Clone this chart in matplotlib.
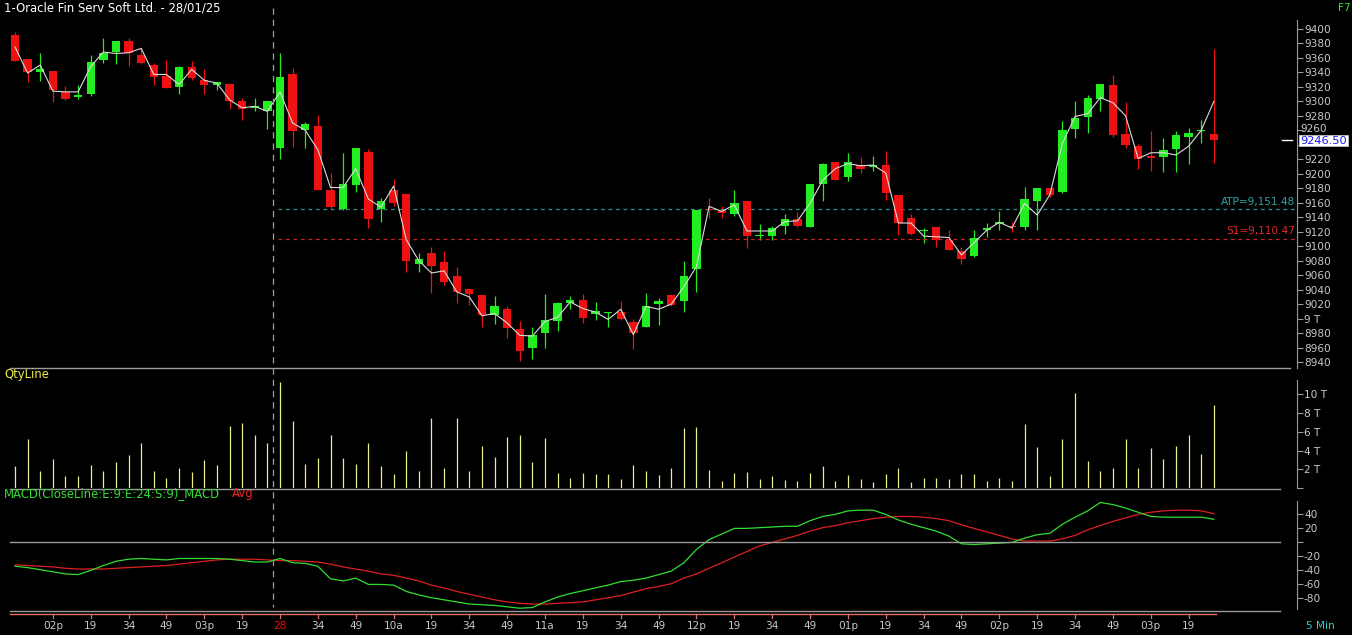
import matplotlib
matplotlib.use("Agg")
import matplotlib.pyplot as plt
from matplotlib.lines import Line2D
import numpy as np

# candle data (5 min), 27/01 13:49 .. 28/01 15:29
opens = [9391, 9358, 9341, 9342, 9313, 9306, 9310, 9357, 9368, 9383,
         9364, 9350, 9335, 9320, 9348, 9329, 9323, 9324, 9301, 9291,
         9287, 9236, 9338, 9260, 9266, 9178, 9151, 9184, 9230, 9151,
         9177, 9172, 9076, 9091, 9078, 9059, 9041, 9033, 9005, 9013,
         8986, 8960, 8980, 8997, 9022, 9026, 9007, 9008, 9009, 8995,
         8989, 9020, 9033, 9024, 9068, 9152, 9150, 9145, 9163, 9114,
         9114, 9128, 9137, 9127, 9186, 9216, 9195, 9212, 9210, 9212,
         9171, 9139, 9121, 9126, 9108, 9094, 9086, 9122, 9131, 9128,
         9126, 9162, 9180, 9175, 9262, 9278, 9303, 9323, 9255, 9238,
         9225, 9223, 9234, 9251, 9259, 9255]
highs = [9395, 9359, 9367, 9342, 9321, 9322, 9364, 9387, 9383, 9388,
         9373, 9353, 9357, 9349, 9355, 9344, 9327, 9324, 9305, 9305,
         9301, 9366, 9346, 9271, 9281, 9201, 9229, 9236, 9234, 9166,
         9193, 9172, 9091, 9099, 9093, 9071, 9041, 9033, 9031, 9017,
         8997, 8989, 9034, 9023, 9031, 9034, 9023, 9009, 9025, 9000,
         9036, 9029, 9033, 9080, 9150, 9167, 9155, 9178, 9163, 9131,
         9128, 9145, 9147, 9186, 9215, 9216, 9228, 9223, 9225, 9231,
         9171, 9145, 9125, 9126, 9122, 9099, 9122, 9132, 9149, 9133,
         9182, 9180, 9180, 9273, 9300, 9309, 9324, 9336, 9299, 9241,
         9259, 9250, 9259, 9263, 9274, 9372]
lows = [9355, 9327, 9328, 9299, 9302, 9303, 9307, 9353, 9352, 9349,
        9352, 9322, 9318, 9310, 9330, 9310, 9315, 9290, 9274, 9287,
        9262, 9220, 9237, 9236, 9177, 9152, 9150, 9175, 9125, 9133,
        9155, 9065, 9064, 9036, 9046, 9022, 9019, 8989, 8993, 8973,
        8941, 8945, 8960, 8983, 9013, 8994, 8998, 8988, 8998, 8958,
        8988, 8991, 9017, 9009, 9037, 9139, 9139, 9142, 9098, 9108,
        9109, 9117, 9126, 9126, 9162, 9191, 9190, 9201, 9204, 9164,
        9115, 9116, 9104, 9099, 9095, 9075, 9085, 9113, 9123, 9119,
        9123, 9123, 9168, 9174, 9250, 9256, 9286, 9251, 9235, 9207,
        9204, 9202, 9203, 9213, 9243, 9215]
closes = [9356, 9341, 9345, 9316, 9303, 9309, 9354, 9367, 9383, 9366,
          9353, 9333, 9319, 9348, 9332, 9322, 9327, 9301, 9290, 9293,
          9301, 9334, 9259, 9269, 9178, 9154, 9186, 9235, 9138, 9162,
          9160, 9080, 9082, 9072, 9051, 9037, 9034, 9005, 9017, 8987,
          8956, 8977, 8998, 9022, 9026, 9001, 9011, 9009, 8999, 8980,
          9017, 9024, 9019, 9059, 9150, 9150, 9146, 9160, 9114, 9116,
          9125, 9137, 9128, 9186, 9214, 9191, 9216, 9207, 9212, 9173,
          9132, 9117, 9122, 9108, 9095, 9083, 9112, 9125, 9133, 9126,
          9165, 9180, 9171, 9260, 9277, 9305, 9324, 9253, 9239, 9221,
          9222, 9233, 9254, 9256, 9260, 9246.5]
close_line = [9375, 9339, 9350, 9314, 9313, 9313, 9348, 9368, 9366, 9367,
              9373, 9337, 9337, 9323, 9344, 9329, 9325, 9302, 9291, 9293,
              9286, 9313, 9270, 9260, 9233, 9181, 9181, 9207, 9165, 9154,
              9183, 9109, 9080, 9063, 9066, 9037, 9030, 9004, 9007, 8994,
              8977, 8976, 8996, 9002, 9023, 9014, 9009, 8999, 9013, 8978,
              9017, 9013, 9020, 9044, 9072, 9155, 9148, 9157, 9121, 9121,
              9121, 9134, 9135, 9159, 9191, 9207, 9214, 9211, 9212, 9201,
              9132, 9132, 9114, 9113, 9112, 9088, 9105, 9122, 9133, 9125,
              9159, 9143, 9171, 9242, 9279, 9283, 9305, 9298, 9280, 9221,
              9229, 9229, 9226, 9238, 9260, 9300]
# quantity in thousands
qty = [2.4, 5.2, 1.8, 3.1, 1.3, 1.3, 2.5, 1.8, 2.8, 3.5,
       4.8, 1.8, 1.1, 2.2, 1.7, 3.0, 2.5, 6.6, 6.9, 5.7,
       4.8, 11.3, 7.1, 2.6, 3.2, 5.7, 3.2, 2.6, 4.8, 2.4,
       1.5, 4.0, 1.8, 7.4, 2.1, 7.4, 1.8, 4.5, 3.3, 5.4,
       5.6, 2.8, 5.3, 1.6, 1.1, 1.6, 1.5, 1.5, 1.0, 2.5,
       1.8, 1.4, 2.2, 6.4, 6.5, 1.9, 0.8, 1.6, 1.7, 1.0,
       1.3, 0.9, 0.8, 1.6, 2.4, 0.8, 1.4, 1.0, 0.7, 1.5,
       2.1, 0.7, 1.1, 1.1, 1.0, 1.5, 1.5, 0.8, 1.1, 0.8,
       6.8, 4.4, 1.3, 5.2, 10.1, 2.9, 1.8, 2.2, 5.2, 2.1,
       4.3, 3.1, 4.5, 5.6, 3.6, 8.8]
macd = [-35, -37, -40, -43, -46, -47, -41, -34, -28, -25,
        -24, -25, -26, -24, -24, -24, -24, -25, -27, -29,
        -29, -24, -30, -31, -35, -53, -56, -52, -61, -61,
        -62, -71, -76, -80, -83, -86, -89, -90, -91, -93,
        -95, -94, -86, -79, -74, -70, -66, -62, -57, -55,
        -52, -47, -42, -30, -11, 3, 11, 19, 19, 20,
        21, 22, 22, 30, 36, 39, 44, 45, 45, 39,
        31, 25, 20, 15, 8, -3, -4, -3, -2, -1,
        5, 10, 12, 25, 35, 44, 56, 53, 48, 42,
        36, 35, 35, 35, 35, 32]
macd_avg = [-33, -34, -35, -36, -38, -39, -39, -39, -38, -37,
            -36, -35, -34, -32, -30, -28, -26, -25, -25, -25,
            -26, -27, -27, -28, -29, -32, -36, -39, -42, -46,
            -48, -52, -56, -62, -66, -71, -75, -79, -83, -86,
            -88, -89, -89, -88, -87, -86, -83, -80, -77, -72,
            -67, -64, -60, -52, -46, -38, -30, -22, -14, -6,
            -1, 4, 9, 15, 20, 23, 27, 30, 33, 35,
            36, 36, 35, 33, 30, 24, 19, 14, 9, 4,
            1, 1, 1, 4, 9, 17, 23, 29, 34, 39,
            42, 44, 45, 45, 44, 40]
tick_idx = list(range(3, 94, 3))
tick_labels = ["02p", "19", "34", "49", "03p", "19", "28", "34", "49", "10a",
               "19", "34", "49", "11a", "19", "34", "49", "12p", "19", "34",
               "49", "01p", "19", "34", "49", "02p", "19", "34", "49", "03p", "19"]
atp = 9151.48
s1 = 9110.47
last_price = 9246.50

W, H = 1352, 635
X0, DX = 15, 12.62          # pixel position of first candle, pixels per candle
GRID = "#9a9a9a"
LBL = "#c8c8c8"
FS = 7.6
FS_CAP = 8.4
GREEN = "#22ee22"
RED = "#ee1111"

plt.rcParams["font.family"] = ["DejaVu Sans"]
fig = plt.figure(figsize=(W / 100, H / 100), dpi=100, facecolor="black")


def px_axes(x0, y0, x1, y1):
    ax = fig.add_axes([x0 / W, 1 - y1 / H, (x1 - x0) / W, (y1 - y0) / H])
    ax.set_facecolor("black")
    for s in ["left", "top", "bottom"]:
        ax.spines[s].set_visible(False)
    ax.spines["right"].set_color(GRID)
    ax.yaxis.tick_right()
    ax.tick_params(axis="y", colors=GRID, labelcolor=LBL, labelsize=FS,
                   length=4, width=0.8, pad=1)
    ax.set_xticks([])
    ax.set_xlim((x0 - X0) / DX, (x1 - X0) / DX)
    return ax


def fig_line(x0, x1, y0, y1, color, **kw):
    fig.add_artist(Line2D([x0 / W, x1 / W], [1 - y0 / H, 1 - y1 / H],
                          transform=fig.transFigure, color=color, **kw))


n = len(closes)
idx = np.arange(n)

# ---- price panel
ax = px_axes(8, 20, 1297, 368)
ax.set_ylim(8931.9, 9412.2)
cols = [GREEN if c >= o else RED for o, c in zip(opens, closes)]
ax.vlines(idx, lows, highs, colors=cols, lw=0.9, zorder=2)
bottoms = [min(o, c) for o, c in zip(opens, closes)]
heights = [max(abs(c - o), 1.8) for o, c in zip(opens, closes)]
ax.bar(idx, heights, bottom=bottoms, width=0.66, color=cols, lw=0, zorder=3)
ax.plot(idx, close_line, color="#dcdcdc", lw=0.8, zorder=4)

xa = (278 - X0) / DX
xb = (1295 - X0) / DX
ax.hlines(atp, xa, xb, colors="#2a8f8f", linestyles=(0, (3, 3)), lw=0.9)
ax.hlines(s1, xa, xb, colors="#cc2222", linestyles=(0, (3, 3)), lw=0.9)
ax.text(xb, atp + 3, "ATP=9,151.48", color="#2fa5a5", fontsize=FS,
        ha="right", va="bottom")
ax.text(xb, s1 + 3, "S1=9,110.47", color="#e02828", fontsize=FS,
        ha="right", va="bottom")

pticks = list(range(8940, 9401, 20))
ax.set_yticks(pticks)
# 9240 sits under the last-price box; 9000 is shown as "9 T"
ax.set_yticklabels(["9 T" if p == 9000 else ("" if p in (9240, 9260) else str(p))
                    for p in pticks])
# 9260 is only half visible above the box
ax.text(1.0, 9260, "9260", transform=ax.get_yaxis_transform(), color=LBL,
        fontsize=FS, ha="left", va="bottom", position=(1.0025, 9255.5),
        clip_on=False)

# last price marker
fig_line(1282, 1292, 140, 140, "white", lw=1)
fig.text(1300 / W, 1 - 140.5 / H, "9246.50", color="#1a1aee", fontsize=8.2,
         ha="left", va="center",
         bbox=dict(boxstyle="square,pad=0.08", fc="white", ec="#c0c0c0", lw=0.6))

# ---- quantity panel
axv = px_axes(8, 380, 1297, 488.3)
axv.set_ylim(0, 11.48)
axv.vlines(idx, 0, qty, colors="#eeee88", lw=0.9)
axv.set_yticks([0, 2, 4, 6, 8, 10])
axv.set_yticklabels(["", "2 T", "4 T", "6 T", "8 T", "10 T"])

# ---- MACD panel
axm = px_axes(8, 501, 1297, 609)
axm.set_ylim(-96.1, 58.1)
axm.plot(idx, macd_avg, color="#dd2020", lw=0.9, zorder=3)
axm.plot(idx, macd, color="#33dd33", lw=0.9, zorder=4)
axm.set_yticks([-80, -60, -40, -20, 0, 20, 40])
axm.set_yticklabels(["-80", "-60", "-40", "-20", "", "20", "40"])

# separators
fig_line(10, 1290, 368, 368, GRID, lw=1)
fig_line(10, 1280, 489, 489, GRID, lw=1)
fig_line(10, 1280, 541.7, 541.7, GRID, lw=1)
fig_line(10, 1280, 611, 611, GRID, lw=1)
fig_line(10, X0 + DX * (n - 1) + 2, 614, 614, "#e07070", lw=1)
fig_line(273, 273, 8, 607, "#a0a0a0", lw=0.9, ls=(0, (5, 4)))

# time axis labels
for i, lab in zip(tick_idx, tick_labels):
    px = X0 + DX * i
    fig_line(px, px, 614, 618, "#e07070", lw=0.9)
    fig.text(px / W, 1 - 626 / H, lab, color=RED if lab == "28" else LBL,
             fontsize=FS, ha="center", va="center")

# captions
fig.text(4 / W, 1 - 8 / H, "1-Oracle Fin Serv Soft Ltd. - 28/01/25",
         color="white", fontsize=FS_CAP, ha="left", va="center")
fig.text(1338 / W, 1 - 8 / H, "F7", color="#33dd33", fontsize=FS,
         ha="left", va="center")
fig.text(4 / W, 1 - 375 / H, "QtyLine", color="#eeee44", fontsize=FS_CAP,
         ha="left", va="center")
fig.text(4 / W, 1 - 494 / H, "MACD(CloseLine:E:9:E:24:S:9)_MACD",
         color="#33dd33", fontsize=FS_CAP, ha="left", va="center")
fig.text(232 / W, 1 - 494 / H, "Avg", color="#ee2222", fontsize=FS_CAP,
         ha="left", va="center")
fig.text(1306 / W, 1 - 626 / H, "5 Min", color="#33cccc", fontsize=FS,
         ha="left", va="center")

fig.savefig("out.png", dpi=100, facecolor="black")
